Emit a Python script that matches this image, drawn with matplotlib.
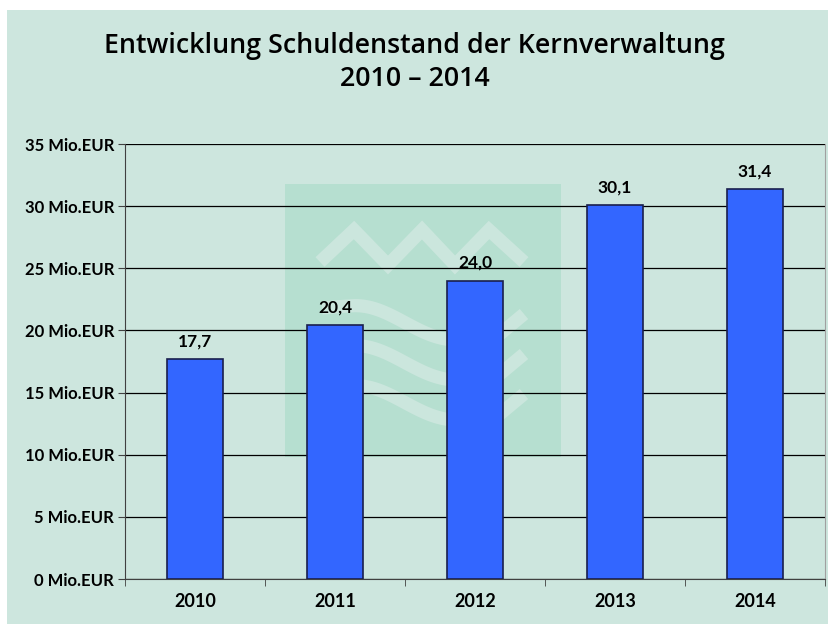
import numpy as np
import matplotlib
matplotlib.use("Agg")
import matplotlib.pyplot as plt
from matplotlib.patches import Rectangle

jahre = ["2010", "2011", "2012", "2013", "2014"]
schulden = [17.7, 20.4, 24.0, 30.1, 31.4]
y_ticks = [0, 5, 10, 15, 20, 25, 30, 35]

bg = "#cde6de"
wm = "#b6dfd0"
wm_line = "#cbe6dd"

fig = plt.figure(figsize=(8.29, 6.24), dpi=100)
fig.patch.set_facecolor("white")

# background + watermark, pixel coordinates
bax = fig.add_axes([0, 0, 1, 1])
bax.set_xlim(0, 829)
bax.set_ylim(624, 0)
bax.axis("off")
bax.add_patch(Rectangle((7, 10), 829, 624, color=bg, lw=0))
bax.add_patch(Rectangle((285, 184), 276, 273, color=wm, lw=0))
zx = [320, 354, 388, 422, 455, 489, 524]
zy = [262, 230, 265, 230, 265, 230, 262]
bax.plot(zx, zy, color=wm_line, lw=9.5, solid_capstyle="butt", solid_joinstyle="miter")
for off in [0, 40, 80]:
    t = np.linspace(0, 1, 60)
    wx = 322 + 160 * t
    wy = 308 + off - 4 * np.sin(np.pi * t) + 34 * (1 - np.cos(np.pi * np.clip(t * 1.6 - 0.3, 0, 1))) / 2
    bax.plot(wx, wy, color=wm_line, lw=9.5, solid_capstyle="butt")
    hx = np.array([482, 500, 524])
    hy = np.array([342, 334, 314]) + off
    bax.plot(hx, hy, color=wm_line, lw=9.5, solid_capstyle="butt")

# main chart
ax = fig.add_axes([125 / 829, 45 / 624, 700 / 829, 435 / 624])
ax.set_facecolor("none")
x = np.arange(len(jahre))
ax.bar(x, schulden, width=0.4, color="#3366ff", edgecolor="#1a1f4d", linewidth=1.2, zorder=3)
ax.set_xlim(-0.5, len(jahre) - 0.5)
ax.set_ylim(0, 35)
ax.set_yticks(y_ticks)
ax.set_yticklabels([f"{v} Mio.EUR" for v in y_ticks], fontsize=12, fontweight="bold", family="Lato")
ax.set_xticks(x)
ax.set_xticklabels(jahre, fontsize=13, fontweight="bold", family="Lato")
ax.set_xticks(np.arange(-0.5, len(jahre)), minor=True)
ax.tick_params(axis="x", which="major", length=0, pad=10)
ax.tick_params(axis="x", which="minor", length=5, direction="out", color="#404040")
ax.tick_params(axis="y", length=5, direction="out", color="#404040", pad=3)
ax.yaxis.grid(True, color="black", lw=0.9, zorder=1)
ax.set_axisbelow(True)
ax.spines["top"].set_visible(False)
ax.spines["left"].set_color("#404040")
ax.spines["bottom"].set_color("#404040")
ax.spines["right"].set_color("#a0a0a0")

for xi, v in zip(x, schulden):
    ax.annotate(f"{v:.1f}".replace(".", ","), (xi, v), xytext=(0, 7), textcoords="offset points",
                ha="center", va="bottom", fontsize=12.5, fontweight="bold", family="Lato")

fig.text(0.5, 1 - 46 / 624, "Entwicklung Schuldenstand der Kernverwaltung", ha="center", va="center",
         fontsize=19.3, family="Open Sans", fontweight="semibold")
fig.text(0.5, 1 - 79 / 624, "2010 – 2014", ha="center", va="center",
         fontsize=19.3, family="Open Sans", fontweight="semibold")

fig.savefig("out.png", dpi=100, facecolor=fig.get_facecolor())
